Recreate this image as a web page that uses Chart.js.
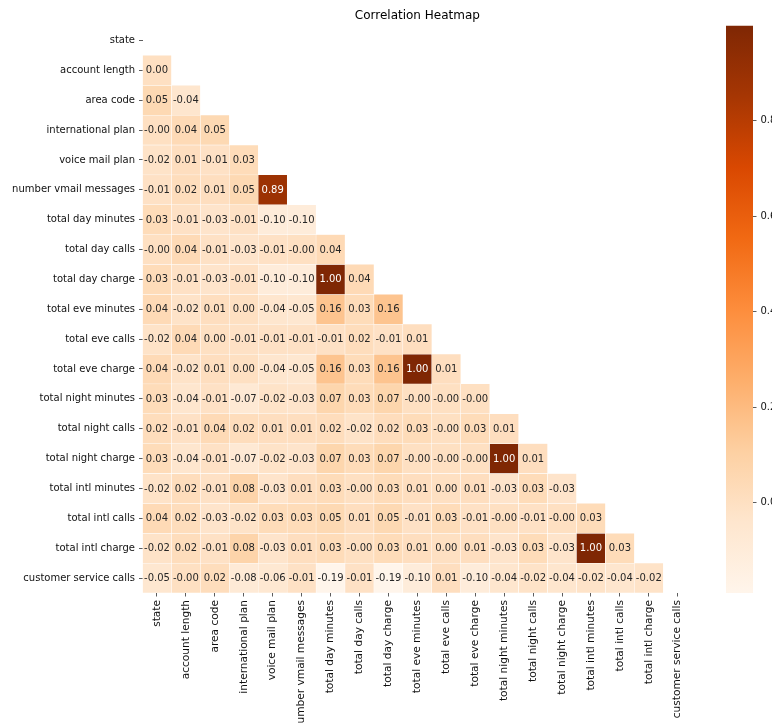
<!DOCTYPE html>
<html>
<head>
<meta charset="utf-8">
<title>Correlation Heatmap</title>
<script src="https://cdn.jsdelivr.net/npm/chart.js@4.4.0/dist/chart.umd.min.js"></script>
<style>
  html, body { margin: 0; padding: 0; background: #ffffff; overflow: hidden; }
  #wrap { position: relative; width: 772px; height: 724px; }
  #heat { position: absolute; left: 0; top: 0; }
  #cbar { position: absolute; left: 700px; top: 0; }
</style>
</head>
<body>
<div id="wrap">
  <canvas id="heat" width="772" height="724"></canvas>
  <canvas id="cbar" width="100" height="724"></canvas>
</div>
<script>
// Feature names (rows top to bottom, columns left to right)
const features = [
  'state', 'account length', 'area code', 'international plan', 'voice mail plan',
  'number vmail messages', 'total day minutes', 'total day calls', 'total day charge',
  'total eve minutes', 'total eve calls', 'total eve charge', 'total night minutes',
  'total night calls', 'total night charge', 'total intl minutes', 'total intl calls',
  'total intl charge', 'customer service calls'
];

// Lower triangle of the correlation matrix: each row lists its correlation
// with the features that come before it.
const accountLength      = [0.00];
const areaCode           = [0.05, -0.04];
const internationalPlan  = [-0.00, 0.04, 0.05];
const voiceMailPlan      = [-0.02, 0.01, -0.01, 0.03];
const numberVmailMsgs    = [-0.01, 0.02, 0.01, 0.05, 0.89];
const totalDayMinutes    = [0.03, -0.01, -0.03, -0.01, -0.10, -0.10];
const totalDayCalls      = [-0.00, 0.04, -0.01, -0.03, -0.01, -0.00, 0.04];
const totalDayCharge     = [0.03, -0.01, -0.03, -0.01, -0.10, -0.10, 1.00, 0.04];
const totalEveMinutes    = [0.04, -0.02, 0.01, 0.00, -0.04, -0.05, 0.16, 0.03, 0.16];
const totalEveCalls      = [-0.02, 0.04, 0.00, -0.01, -0.01, -0.01, -0.01, 0.02, -0.01, 0.01];
const totalEveCharge     = [0.04, -0.02, 0.01, 0.00, -0.04, -0.05, 0.16, 0.03, 0.16, 1.00, 0.01];
const totalNightMinutes  = [0.03, -0.04, -0.01, -0.07, -0.02, -0.03, 0.07, 0.03, 0.07, -0.00, -0.00, -0.00];
const totalNightCalls    = [0.02, -0.01, 0.04, 0.02, 0.01, 0.01, 0.02, -0.02, 0.02, 0.03, -0.00, 0.03, 0.01];
const totalNightCharge   = [0.03, -0.04, -0.01, -0.07, -0.02, -0.03, 0.07, 0.03, 0.07, -0.00, -0.00, -0.00, 1.00, 0.01];
const totalIntlMinutes   = [-0.02, 0.02, -0.01, 0.08, -0.03, 0.01, 0.03, -0.00, 0.03, 0.01, 0.00, 0.01, -0.03, 0.03, -0.03];
const totalIntlCalls     = [0.04, 0.02, -0.03, -0.02, 0.03, 0.03, 0.05, 0.01, 0.05, -0.01, 0.03, -0.01, -0.00, -0.01, -0.00, 0.03];
const totalIntlCharge    = [-0.02, 0.02, -0.01, 0.08, -0.03, 0.01, 0.03, -0.00, 0.03, 0.01, 0.00, 0.01, -0.03, 0.03, -0.03, 1.00, 0.03];
const customerServiceCalls = [-0.05, -0.00, 0.02, -0.08, -0.06, -0.01, -0.19, -0.01, -0.19, -0.10, 0.01, -0.10, -0.04, -0.02, -0.04, -0.02, -0.04, -0.02];

// Colour bar tick values
const colorbarTicks = [0.0, 0.2, 0.4, 0.6, 0.8];

// "Oranges" sequential palette anchors (low -> high)
const orangesStops = ['#fff5eb', '#fee6ce', '#fdd0a2', '#fdae6b', '#fd8d3c', '#f16913', '#d94801', '#a63603', '#7f2704'];

const lowerRows = [
  [], accountLength, areaCode, internationalPlan, voiceMailPlan, numberVmailMsgs,
  totalDayMinutes, totalDayCalls, totalDayCharge, totalEveMinutes, totalEveCalls,
  totalEveCharge, totalNightMinutes, totalNightCalls, totalNightCharge,
  totalIntlMinutes, totalIntlCalls, totalIntlCharge, customerServiceCalls
];

const allValues = lowerRows.flat();
const vmin = Math.min(...allValues);
const vmax = Math.max(...allValues);

function hexToRgb(h) {
  return [parseInt(h.slice(1, 3), 16), parseInt(h.slice(3, 5), 16), parseInt(h.slice(5, 7), 16)];
}
const stopRgb = orangesStops.map(hexToRgb);

function rgbFor(v) {
  let t = (v - vmin) / (vmax - vmin);
  t = Math.max(0, Math.min(1, t));
  const pos = t * (stopRgb.length - 1);
  const i = Math.min(Math.floor(pos), stopRgb.length - 2);
  const f = pos - i;
  const a = stopRgb[i], b = stopRgb[i + 1];
  return [0, 1, 2].map(k => a[k] + (b[k] - a[k]) * f);
}
function colorFor(v) {
  const c = rgbFor(v);
  return `rgb(${c[0].toFixed(1)}, ${c[1].toFixed(1)}, ${c[2].toFixed(1)})`;
}
function textColorFor(v) {
  const lin = rgbFor(v).map(x => {
    x /= 255;
    return x <= 0.03928 ? x / 12.92 : Math.pow((x + 0.055) / 1.055, 2.4);
  });
  const lum = 0.2126 * lin[0] + 0.7152 * lin[1] + 0.0722 * lin[2];
  return lum > 0.408 ? '#262626' : '#ffffff';
}
function fmt(v) {
  const neg = v < 0 || Object.is(v, -0);
  return (neg ? '-' : '') + Math.abs(v).toFixed(2);
}

Chart.defaults.font.family = "'DejaVu Sans', 'Liberation Sans', sans-serif";
Chart.defaults.font.size = 10;
Chart.defaults.color = '#111111';

// One floating-bar dataset per row; each bar spans [row, row + 1] on the y axis.
const datasets = [];
for (let r = 1; r < features.length; r++) {
  datasets.push({
    label: features[r],
    corr: lowerRows[r],
    data: features.map((_, c) => (c < r ? [r, r + 1] : null)),
    backgroundColor: ctx => {
      const v = ctx.dataset.corr[ctx.dataIndex];
      return v === undefined ? 'rgba(0,0,0,0)' : colorFor(v);
    },
    borderColor: '#ffffff',
    borderWidth: 0.5,
    borderSkipped: false,
    barPercentage: 1,
    categoryPercentage: 1,
    grouped: false
  });
}

// Writes each cell's value in its centre
const cellLabels = {
  id: 'cellLabels',
  afterDatasetsDraw(chart) {
    const g = chart.ctx;
    g.save();
    g.font = "10px 'DejaVu Sans', sans-serif";
    g.textAlign = 'center';
    g.textBaseline = 'middle';
    chart.data.datasets.forEach((ds, di) => {
      chart.getDatasetMeta(di).data.forEach((el, ci) => {
        const v = ds.corr[ci];
        if (v === undefined) return;
        g.fillStyle = textColorFor(v);
        g.fillText(fmt(v), el.x, (el.y + el.base) / 2 + 0.5);
      });
    });
    g.restore();
  }
};

new Chart(document.getElementById('heat'), {
  type: 'bar',
  data: { labels: features, datasets },
  plugins: [cellLabels],
  options: {
    responsive: false,
    animation: false,
    events: [],
    layout: { padding: { left: 0, right: 79.8, top: 0, bottom: 0 } },
    plugins: {
      legend: { display: false },
      tooltip: { enabled: false },
      title: {
        display: true,
        text: 'Correlation Heatmap',
        fullSize: false,
        color: '#000000',
        font: { size: 12, weight: 'normal' },
        padding: { top: 8.6, bottom: 2.5 }
      }
    },
    scales: {
      x: {
        type: 'category',
        offset: true,
        afterFit: s => { s.height = 131; },
        ticks: { autoSkip: false, minRotation: 90, maxRotation: 90, padding: 3.5, font: { size: 10.6 } },
        grid: { offset: false, drawOnChartArea: false, drawTicks: true, tickLength: 3.5, tickColor: '#333333', tickWidth: 0.8 },
        border: { display: false }
      },
      y: {
        type: 'linear',
        reverse: true,
        min: 0,
        max: features.length,
        afterBuildTicks: s => { s.ticks = features.map((_, i) => ({ value: i + 0.5 })); },
        afterFit: s => { s.width = 142.5; },
        ticks: { autoSkip: false, padding: 4, callback: (v, i) => features[i] },
        grid: { drawOnChartArea: false, drawTicks: true, tickLength: 3.5, tickColor: '#333333', tickWidth: 0.8 },
        border: { display: false }
      }
    }
  }
});

// Colour bar: a single floating bar spanning the full value range, filled with the palette
new Chart(document.getElementById('cbar'), {
  type: 'bar',
  data: {
    labels: [''],
    datasets: [{
      data: [[vmin, vmax]],
      backgroundColor: ctx => {
        const chart = ctx.chart;
        if (!chart.chartArea) return orangesStops[0];
        const ys = chart.scales.y;
        const grad = chart.ctx.createLinearGradient(0, ys.getPixelForValue(vmin), 0, ys.getPixelForValue(vmax));
        orangesStops.forEach((c, i) => grad.addColorStop(i / (orangesStops.length - 1), c));
        return grad;
      },
      borderWidth: 0,
      barPercentage: 1,
      categoryPercentage: 1,
      inflateAmount: 0
    }]
  },
  options: {
    responsive: false,
    animation: false,
    events: [],
    layout: { padding: { left: 26, right: 0, top: 25.5, bottom: 131 } },
    plugins: { legend: { display: false }, tooltip: { enabled: false } },
    scales: {
      x: { display: false },
      y: {
        position: 'right',
        min: vmin,
        max: vmax,
        afterBuildTicks: s => { s.ticks = colorbarTicks.map(v => ({ value: v })); },
        afterFit: s => { s.width = 47; },
        ticks: { padding: 4, callback: v => v.toFixed(1) },
        grid: { drawOnChartArea: false, drawTicks: true, tickLength: 3.5, tickColor: '#333333', tickWidth: 0.8 },
        border: { display: false }
      }
    }
  }
});
</script>
</body>
</html>
